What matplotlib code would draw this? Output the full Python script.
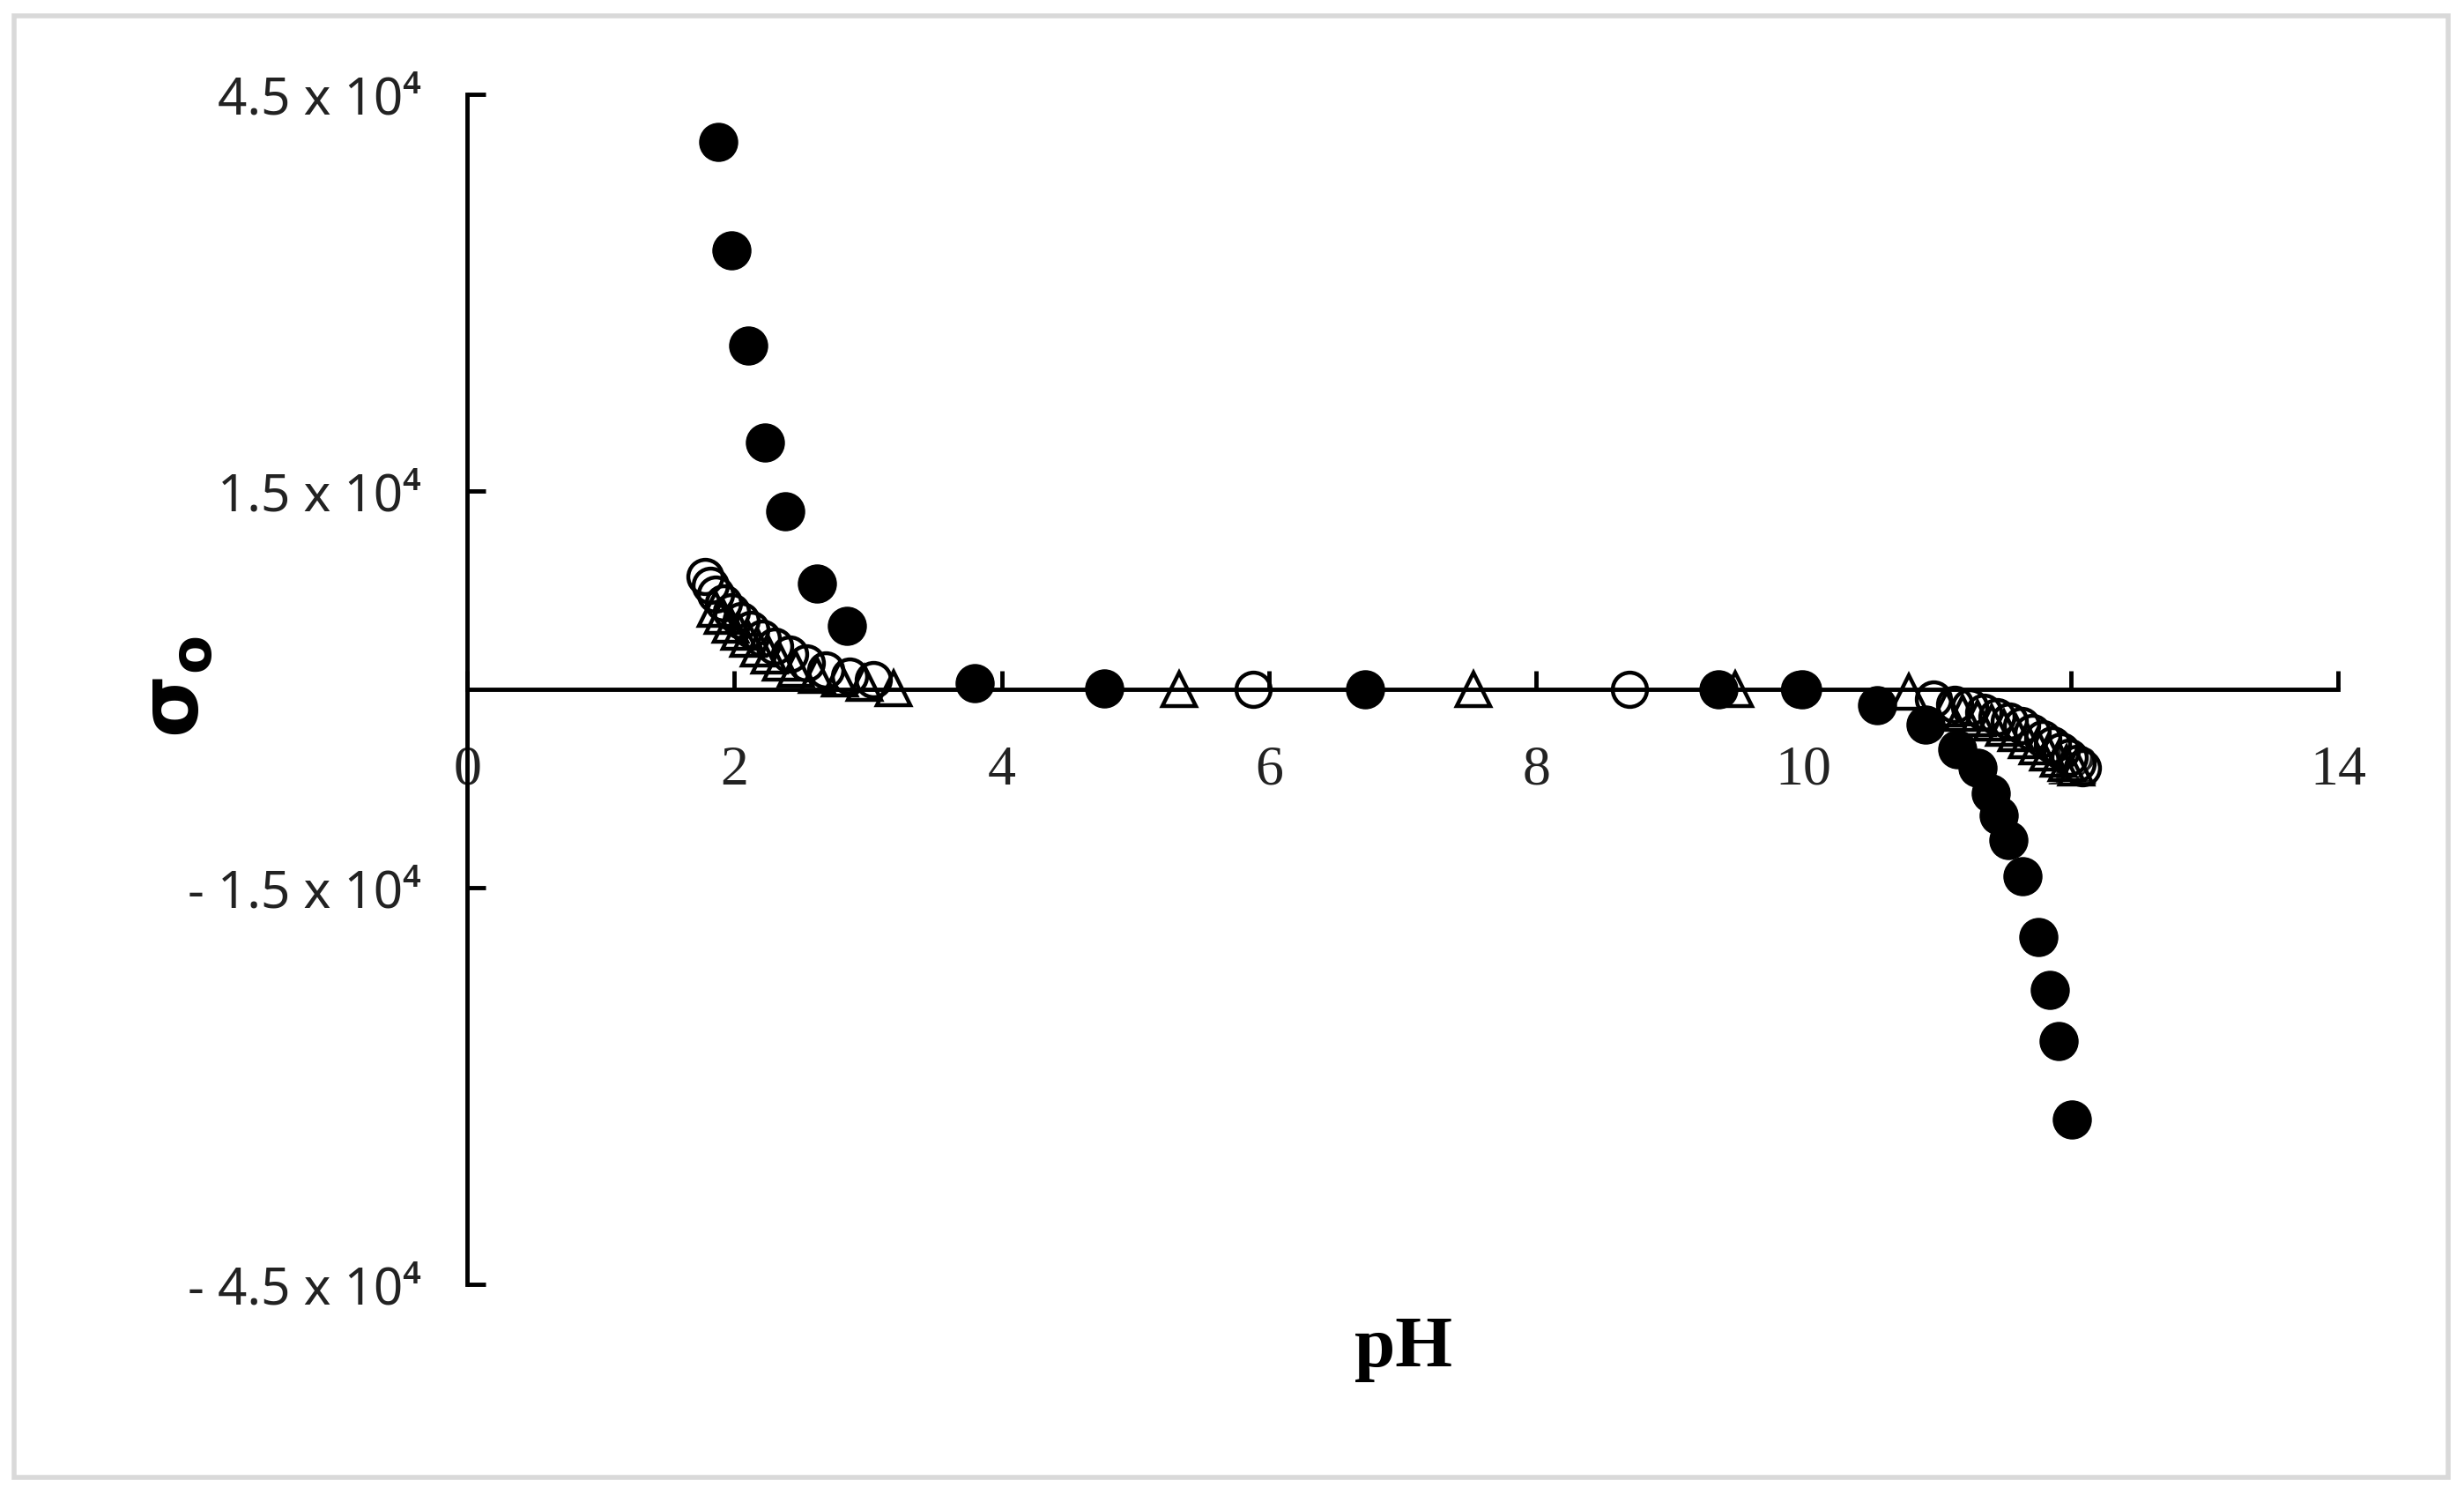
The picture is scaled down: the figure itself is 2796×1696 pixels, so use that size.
import matplotlib
matplotlib.use('Agg')
import matplotlib.pyplot as plt
from matplotlib.patches import Rectangle

# filled circles
ph_filled = [1.88, 1.98, 2.10, 2.23, 2.38, 2.62, 2.84, 3.80, 4.77, 6.72, 9.36, 9.99,
             10.55, 10.91, 11.15, 11.30, 11.40, 11.46, 11.53, 11.64, 11.76, 11.84, 11.91, 12.01]
sig_filled = [41400, 33200, 26000, 18700, 13500, 8000, 4800, 500, 50, 20, 10, 0,
              -1200, -2650, -4530, -5950, -7850, -9500, -11400, -14100, -18700, -22700, -26600, -32500]

# open circles
ph_open = [1.78, 1.82, 1.86, 1.92, 1.98, 2.05, 2.12, 2.21, 2.30, 2.41, 2.54, 2.68, 2.86, 3.04,
           5.88, 8.70, 9.97, 10.97, 11.13, 11.24, 11.35, 11.45, 11.54, 11.63, 11.71, 11.79,
           11.86, 11.93, 11.99, 12.05, 12.09]
sig_open = [8550, 7900, 7200, 6550, 5900, 5200, 4550, 3900, 3300, 2650, 2000, 1450, 1000, 750,
            0, 0, 0, -750, -1100, -1350, -1700, -2050, -2400, -2750, -3250, -3700,
            -4200, -4650, -5150, -5600, -5950]

# open triangles
ph_tri = [1.86, 1.91, 1.97, 2.04, 2.10, 2.18, 2.26, 2.35, 2.46, 2.62, 2.79, 2.97, 3.19,
          5.33, 7.53, 9.49, 10.79, 11.07, 11.19, 11.30, 11.41, 11.50, 11.59, 11.67, 11.75,
          11.83, 11.91, 11.97, 12.04]
sig_tri = [6100, 5550, 4900, 4350, 3800, 3100, 2550, 2000, 1550, 1100, 800, 450, 100,
           0, 0, 0, -200, -1450, -1800, -2200, -2550, -2900, -3350, -3850, -4300,
           -4800, -5250, -5600, -5950]

x_ticks = [0, 2, 4, 6, 8, 10, 12, 14]
y_ticks = [-45000, -15000, 15000, 45000]
y_tick_labels = ['- 4.5 x 10⁴', '- 1.5 x 10⁴', '1.5 x 10⁴', '4.5 x 10⁴']

fig = plt.figure(figsize=(27.96, 16.96), dpi=100)
ax = fig.add_axes([0.1896, 0.1409, 0.7593, 0.7960])

ax.plot(ph_filled, sig_filled, 'o', color='black', markersize=31, zorder=3)
ax.plot(ph_open, sig_open, 'o', markerfacecolor='none', markeredgecolor='black',
        markersize=28, markeredgewidth=3.2, zorder=4)
ax.plot(ph_tri, sig_tri, '^', markerfacecolor='none', markeredgecolor='black',
        markersize=27, markeredgewidth=3.2, zorder=5)

ax.set_xlim(0, 14)
ax.set_ylim(-45000, 45000)

ax.spines['top'].set_visible(False)
ax.spines['right'].set_visible(False)
ax.spines['bottom'].set_position(('data', 0))
ax.spines['left'].set_linewidth(3.5)
ax.spines['bottom'].set_linewidth(3.5)

ax.set_xticks(x_ticks)
ax.set_xticklabels([str(v) for v in x_ticks], fontfamily='Liberation Serif', fontsize=46,
                   color='#222222')
ax.set_yticks(y_ticks)
ax.set_yticklabels(y_tick_labels, fontfamily=['Noto Sans', 'DejaVu Sans'], fontsize=42,
                   color='#222222')
ax.tick_params(axis='x', direction='in', length=15, width=3.5, pad=46)
ax.tick_params(axis='y', direction='in', length=15, width=3.5, pad=38)

fig.text(1592 / 2796, 1 - 1530 / 1696, 'pH', fontfamily='Liberation Serif',
         fontweight='bold', fontsize=60, ha='center', va='center')
fig.text(200 / 2796, 1 - 779 / 1696, r'$\mathbf{\sigma_o}$', fontsize=66,
         rotation=90, ha='center', va='center')

fig.add_artist(Rectangle((16 / 2796, 20 / 1696), 2762 / 2796, 1658 / 1696,
                         transform=fig.transFigure, fill=False,
                         edgecolor='#d9d9d9', linewidth=4))

fig.savefig('out.png', dpi=100)
plt.close(fig)
